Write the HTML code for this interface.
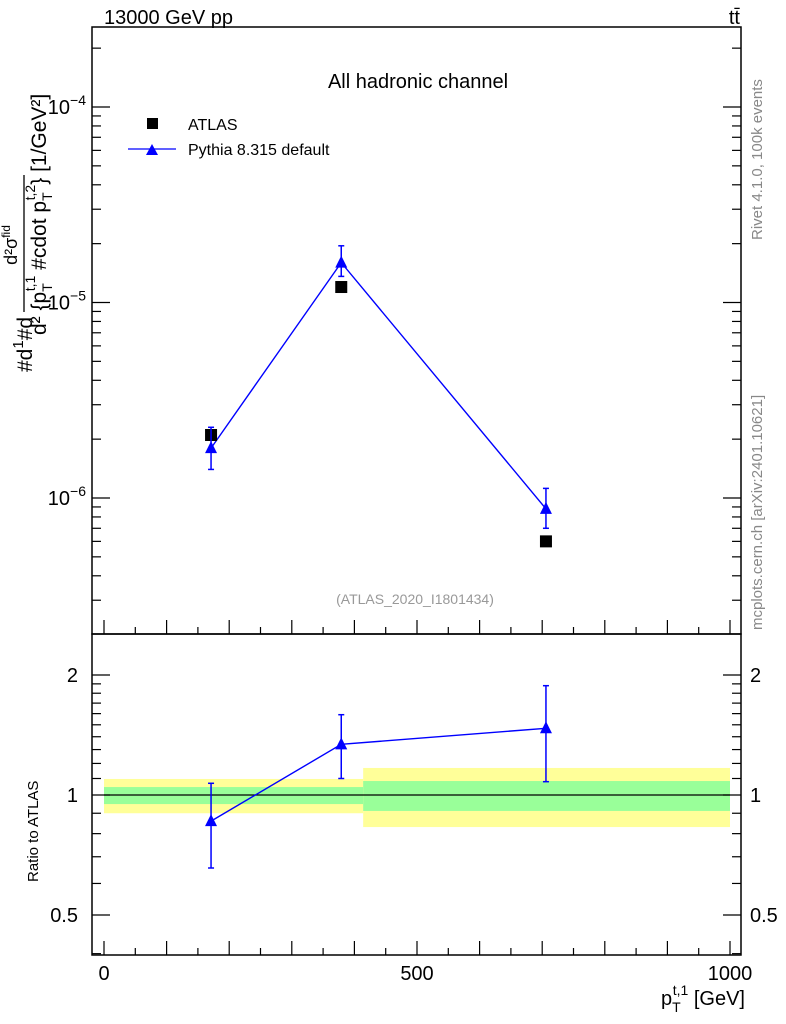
<!DOCTYPE html>
<html><head><meta charset="utf-8"><style>body{margin:0;background:#fff}svg{display:block;font-family:"Liberation Sans",sans-serif}</style></head>
<body>
<svg id="c" width="786" height="1024" viewBox="0 0 786 1024">
<rect x="0" y="0" width="786" height="1024" fill="#fff"/>
<g id="bands"></g>
<g id="frames" fill="none" stroke="#000" stroke-width="1.5">
<rect x="92" y="27" width="649" height="607"/>
<rect x="92" y="634" width="649" height="321"/>
</g>
<g id="ticks" stroke="#000" stroke-width="1.2"></g>
<g id="marks"></g>
<g id="labels" font-size="20"></g>
<text x="104" y="24" font-size="20">13000 GeV pp</text>
<text x="740" y="24" font-size="20" text-anchor="end">tt̄</text>
<text x="418" y="88" font-size="20" text-anchor="middle">All hadronic channel</text>
<rect x="147" y="118" width="11" height="11" fill="#000"/>
<text x="188" y="130" font-size="16">ATLAS</text>
<line x1="128" y1="149" x2="176" y2="149" stroke="#00f" stroke-width="1.3"/>
<path d="M146,155 L152,144 L158,155 Z" fill="#00f"/>
<text x="188" y="155" font-size="16">Pythia 8.315 default</text>
<text x="415" y="604" font-size="14" fill="#999" text-anchor="middle">(ATLAS_2020_I1801434)</text>
<text transform="translate(762,240) rotate(-90)" font-size="15" fill="#888">Rivet 4.1.0,  100k events</text>
<text transform="translate(762,630) rotate(-90)" font-size="15" fill="#888">mcplots.cern.ch [arXiv:2401.10621]</text>
<g font-size="21">
<text transform="translate(32,372) rotate(-90)">#d<tspan font-size="15" dy="-9">1</tspan><tspan dy="9">#d</tspan></text>
<text transform="translate(17,245) rotate(-90)" font-size="18" text-anchor="middle">d²σ<tspan font-size="12" dy="-7">fid</tspan></text>
<line x1="24" y1="175" x2="24" y2="312" stroke="#000" stroke-width="1.3"/>
<text transform="translate(46,335) rotate(-90)">d² {p<tspan font-size="14" dy="6">T</tspan><tspan font-size="14" dy="-17" dx="-8">t,1</tspan><tspan dy="11"> #cdot p</tspan><tspan font-size="14" dy="6">T</tspan><tspan font-size="14" dy="-17" dx="-8">t,2</tspan><tspan dy="11">} [1/GeV²]</tspan></text>
</g>
<text transform="translate(38,882) rotate(-90)" font-size="15">Ratio to ATLAS</text>
<text x="745" y="1005" font-size="20" text-anchor="end">p<tspan font-size="14" dy="7">T</tspan><tspan font-size="14" dy="-17" dx="-8">t,1</tspan><tspan dy="10"> [GeV]</tspan></text>
</svg>
<script>
var xCats=[171,379,706];
var dataVals=[2.1e-6,1.2e-5,6.0e-7];
var dataErr=[0.12e-6,0.06e-5,0.03e-7];
var mcVals=[1.8e-6,1.6e-5,8.8e-7];
var mcUp=[2.3e-6,1.95e-5,1.12e-6];
var mcDn=[1.4e-6,1.36e-5,7.0e-7];
var ratioVals=[0.86,1.34,1.47];
var ratioUp=[1.07,1.59,1.88];
var ratioDn=[0.656,1.10,1.08];
var binEdges=[0,414,1000];
var bandYellow=[[0.90,1.097],[0.831,1.169]];
var bandGreen=[[0.949,1.047],[0.912,1.084]];
var xTicks=[0,500,1000];
var yTicks=[-6,-5,-4];
var rTicks=[0.5,1,2];
var NS='http://www.w3.org/2000/svg';
function X(v){return 104+v*0.626;}
function Y(v){return 498-(Math.log10(v)+6)*195.5;}
function R(v){return 795-Math.log10(v)*398.7;}
function mk(p,t,a){var e=document.createElementNS(NS,t);for(var k in a)e.setAttribute(k,a[k]);document.getElementById(p).appendChild(e);return e;}
for(var i=0;i<2;i++){
var e=mk('bands','rect',{x:X(binEdges[i]),width:X(binEdges[i+1])-X(binEdges[i]),y:R(bandYellow[i][1]),height:R(bandYellow[i][0])-R(bandYellow[i][1]),fill:'#ffff99'});


e=mk('bands','rect',{x:X(binEdges[i]),width:X(binEdges[i+1])-X(binEdges[i]),y:R(bandGreen[i][1]),height:R(bandGreen[i][0])-R(bandGreen[i][1]),fill:'#99ff99'});


}
var l=mk('bands','line',{x1:X(0),x2:X(1000),y1:R(1),y2:R(1),stroke:'#000','stroke-width':1.2});


for(var v=0;v<=1100;v+=50){var big=v%100==0;var x=X(v);if(x>741)break;
mk('ticks','line',{x1:x,x2:x,y1:634,y2:634-(big?14:7)});
mk('ticks','line',{x1:x,x2:x,y1:955,y2:955-(big?14:7)});}
for(var i=0;i<xTicks.length;i++){var t=mk('labels','text',{x:X(xTicks[i]),y:980,'text-anchor':'middle'});t.textContent=xTicks[i];

}
for(var d=-7;d<=-4;d++){for(var m=1;m<10;m++){var y=Y(m*Math.pow(10,d));if(y<27||y>634)continue;var L=m==1?18:9;
mk('ticks','line',{x1:92,x2:92+L,y1:y,y2:y});mk('ticks','line',{x1:741,x2:741-L,y1:y,y2:y});}}
for(var i=0;i<yTicks.length;i++){var t=mk('labels','text',{x:86,y:Y(Math.pow(10,yTicks[i]))+7,'text-anchor':'end'});


t.appendChild(document.createTextNode('10'));
var s=document.createElementNS(NS,'tspan');s.setAttribute('font-size','14');s.setAttribute('dy','-9');s.textContent='\u2212'+(-yTicks[i]);t.appendChild(s);}
var rt=[0.4,0.5,0.6,0.7,0.8,0.9,1,1.1,1.2,1.3,1.4,1.5,1.6,1.7,1.8,1.9,2,3];
for(var i=0;i<rt.length;i++){var y=R(rt[i]);if(y<634||y>955)continue;var big=rTicks.indexOf(rt[i])>=0;var L=big?18:9;
mk('ticks','line',{x1:92,x2:92+L,y1:y,y2:y});mk('ticks','line',{x1:741,x2:741-L,y1:y,y2:y});}
for(var i=0;i<rTicks.length;i++){var t=mk('labels','text',{x:78,y:R(rTicks[i])+7,'text-anchor':'end'});t.textContent=rTicks[i];


t=mk('labels','text',{x:750,y:R(rTicks[i])+7});t.textContent=rTicks[i];

}
var pts=xCats.map(function(c,i){return X(c)+','+Y(mcVals[i]);}).join(' ');
l=mk('marks','polyline',{points:pts,fill:'none',stroke:'#00f','stroke-width':1.4});


pts=xCats.map(function(c,i){return X(c)+','+R(ratioVals[i]);}).join(' ');
l=mk('marks','polyline',{points:pts,fill:'none',stroke:'#00f','stroke-width':1.4});


function tri(x,y,name){var p=mk('marks','path',{d:'M'+(x-6)+','+(y+5)+' L'+x+','+(y-7)+' L'+(x+6)+','+(y+5)+' Z',fill:'#00f'});

}
function err(y1,y2,x,col){mk('marks','line',{x1:x,x2:x,y1:y1,y2:y2,stroke:col,'stroke-width':1.5});
mk('marks','line',{x1:x-3,x2:x+3,y1:y1,y2:y1,stroke:col,'stroke-width':1.5});
mk('marks','line',{x1:x-3,x2:x+3,y1:y2,y2:y2,stroke:col,'stroke-width':1.5});}
for(var i=0;i<xCats.length;i++){var x=X(xCats[i]);
err(Y(dataVals[i]+dataErr[i]),Y(dataVals[i]-dataErr[i]),x,'#000');
var r=mk('marks','rect',{x:x-6,y:Y(dataVals[i])-6,width:12,height:12,fill:'#000'});


err(Y(mcUp[i]),Y(mcDn[i]),x,'#00f');
tri(x,Y(mcVals[i]),'pythia-point');
err(R(ratioUp[i]),R(ratioDn[i]),x,'#00f');
tri(x,R(ratioVals[i]),'ratio-point');}
</script>
</body></html>
